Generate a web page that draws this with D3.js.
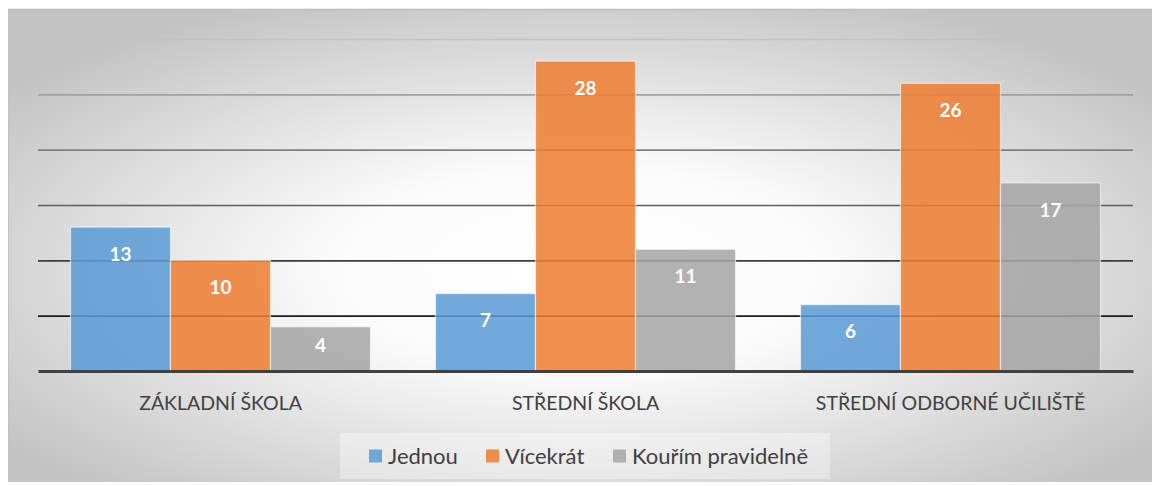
<!DOCTYPE html>
<html><head><meta charset="utf-8">
<script src="https://cdn.jsdelivr.net/npm/d3@7"></script>
<style>html,body{margin:0;padding:0;background:#fff;}svg{display:block;}</style>
</head><body>
<svg id="chart" width="1152" height="486"></svg>
<script>
const categories = ["ZÁKLADNÍ ŠKOLA", "STŘEDNÍ ŠKOLA", "STŘEDNÍ ODBORNÉ UČILIŠTĚ"];
const seriesNames = ["Jednou", "Vícekrát", "Kouřím pravidelně"];
const jednou = [13, 7, 6];
const vicekrat = [10, 28, 26];
const pravidelne = [4, 11, 17];
const yTicks = [5, 10, 15, 20, 25, 30];
const colors = ["#5b9bd5", "#ed7d31", "#a5a5a5"];

const seriesValues = [jednou, vicekrat, pravidelne];
const svg = d3.select("#chart");
const font = "Lato, 'Open Sans', sans-serif";

// background
const defs = svg.append("defs");
const rg = defs.append("radialGradient").attr("id","bg")
  .attr("cx","0.5").attr("cy","0.55").attr("r","0.62");
rg.append("stop").attr("offset","0").attr("stop-color","#ffffff");
rg.append("stop").attr("offset","0.35").attr("stop-color","#fbfbfb");
rg.append("stop").attr("offset","1").attr("stop-color","#c4c4c4");
svg.append("rect").attr("x",8).attr("y",9).attr("width",1144).attr("height",473)
  .attr("fill","url(#bg)");
svg.append("line").attr("x1",8).attr("x2",1152).attr("y1",9.5).attr("y2",9.5)
  .attr("stroke","#bdbdbd").attr("stroke-width",1.5);
svg.append("line").attr("x1",8.5).attr("x2",8.5).attr("y1",9).attr("y2",482)
  .attr("stroke","#c2c2c2").attr("stroke-width",1);

const pLeft = 38, pRight = 1133, pTop = 39, pBottom = 371;
const y = d3.scaleLinear().domain([0, 30]).range([pBottom, pTop]);
const x0 = d3.scaleBand().domain(categories).range([pLeft, pRight]).paddingInner(0).paddingOuter(0);
const groupW = x0.bandwidth() * 0.822;
const x1 = d3.scaleBand().domain(seriesNames).range([0, groupW]).padding(0);

const gridColor = d3.scaleLinear().domain([5, 30]).range(["#1c1c1c", "#c2c2c2"]);
const yAxis = d3.axisLeft(y).tickValues(yTicks).tickSize(-(pRight-pLeft)).tickFormat("");
const gAxis = svg.append("g").attr("transform",`translate(${pLeft},0)`).call(yAxis);
gAxis.select(".domain").remove();
gAxis.selectAll(".tick line").attr("stroke", d => gridColor(d)).attr("stroke-width", 1.6);

// bars
const data = [];
categories.forEach((c, i) => seriesNames.forEach((s, j) => data.push({c, s, j, v: seriesValues[j][i]})));
const bars = svg.append("g");
bars.selectAll("rect").data(data).enter().append("rect")
  .attr("x", d => x0(d.c) + (x0.bandwidth()-groupW)/2 + x1(d.s))
  .attr("y", d => y(d.v))
  .attr("width", x1.bandwidth())
  .attr("height", d => y(0) - y(d.v))
  .attr("fill", d => colors[d.j])
  .attr("fill-opacity", 0.86)
  .attr("stroke", "rgba(255,255,255,0.6)")
  .attr("stroke-width", 1.2);

bars.selectAll("text").data(data).enter().append("text")
  .attr("x", d => x0(d.c) + (x0.bandwidth()-groupW)/2 + x1(d.s) + x1.bandwidth()/2)
  .attr("y", d => { const h = y(0)-y(d.v); return y(d.v) + Math.min(27, h/2 - 4); })
  .attr("dy", "0.36em")
  .attr("text-anchor","middle")
  .attr("fill","#fff").attr("font-family",font).attr("font-weight","bold").attr("font-size",19)
  .text(d => d.v);

// baseline
const xAxis = d3.axisBottom(x0).tickSize(0).tickPadding(25);
const gx = svg.append("g").attr("transform",`translate(0,${pBottom})`).call(xAxis);
gx.select(".domain").attr("stroke","#404040").attr("stroke-width",3);
gx.selectAll(".tick text").attr("font-family",font).attr("font-size",19.5).attr("fill","#404040");

// legend
svg.append("rect").attr("x",340).attr("y",433).attr("width",490).attr("height",46)
  .attr("fill","rgba(255,255,255,0.35)");
const legendX = [369, 486, 613];
const lg = svg.append("g").selectAll("g").data(seriesNames).enter().append("g")
  .attr("transform",(d,i)=>`translate(${legendX[i]},456)`);
lg.append("rect").attr("x",0).attr("y",-6.5).attr("width",13).attr("height",13)
  .attr("fill",(d,i)=>colors[i]).attr("fill-opacity",0.86);
lg.append("text").attr("x",19).attr("dy","0.36em")
  .attr("font-family",font).attr("font-size",22).attr("fill","#404040").text(d=>d);
</script>
</body></html>
